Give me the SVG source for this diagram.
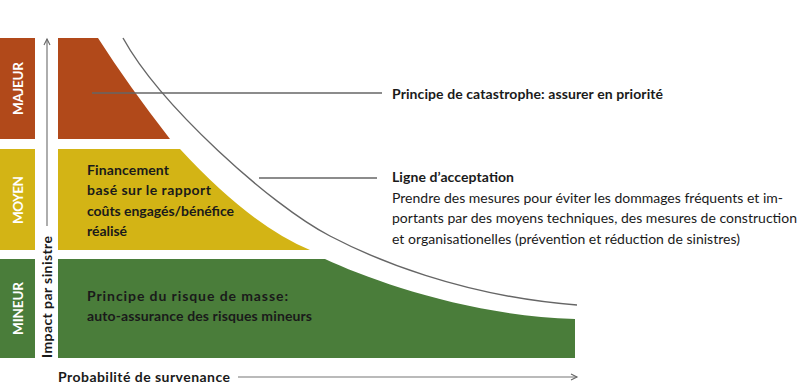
<svg xmlns="http://www.w3.org/2000/svg" width="800" height="386" viewBox="0 0 800 386">
<defs>
<marker id="arr" markerWidth="10" markerHeight="10" refX="7" refY="4" orient="auto" markerUnits="userSpaceOnUse">
<path d="M1,1 L7,4 L1,7" fill="none" stroke="#666" stroke-width="1.1"/>
</marker>
<style>
.t{font-family:Lato,"Liberation Sans",sans-serif;fill:#1a1a1a;font-size:14px}
.b{font-weight:bold}
.lab{font-family:Lato,"Liberation Sans",sans-serif;font-weight:bold;fill:#fff;font-size:13.5px;text-anchor:middle}
.red{fill:#B1491A}
.yel{fill:#D3B415}
.grn{fill:#4A7D3A}
.ln{stroke:#666;stroke-width:1.4;fill:none}
.ax{stroke:#777;stroke-width:1.2;fill:none}
</style>
</defs>

<g id="level-majeur">
<rect class="red" x="0" y="38" width="35" height="101"/>
<text class="lab" transform="translate(23,88.5) rotate(-90)" textLength="53">MAJEUR</text>
</g>
<g id="level-moyen">
<rect class="yel" x="0" y="149" width="35" height="101"/>
<text class="lab" transform="translate(23,200) rotate(-90)" textLength="48">MOYEN</text>
</g>
<g id="level-mineur">
<rect class="grn" x="0" y="259" width="35" height="99"/>
<text class="lab" transform="translate(23,308.5) rotate(-90)" textLength="53">MINEUR</text>
</g>

<g id="zone-catastrophe">
<path class="red" d="M58,38 L98,38 Q128,85 170,139 L58,139 Z"/>
</g>
<g id="zone-financement">
<path class="yel" d="M58,149 L180,149 Q250,225 310,250 L58,250 Z"/>
<text class="t b" x="87" y="175" textLength="82">Financement</text>
<text class="t b" x="87" y="195" textLength="124">basé sur le rapport</text>
<text class="t b" x="87" y="216" textLength="147">coûts engagés/bénéfice</text>
<text class="t b" x="87" y="236" textLength="40">réalisé</text>
</g>
<g id="zone-masse">
<path class="grn" d="M58,259 L325,259 C370,280 470,316 575,319 L575,358 L58,358 Z"/>
<text class="t b" x="87" y="301" textLength="201">Principe du risque de masse:</text>
<text class="t b" x="87" y="321" textLength="225">auto-assurance des risques mineurs</text>
</g>

<g id="label-catastrophe">
<text class="t b" x="392" y="99" textLength="271">Principe de catastrophe: assurer en priorité</text>
</g>
<g id="label-acceptation">
<text class="t b" x="392" y="182" textLength="122">Ligne d’acceptation</text>
<text class="t" x="392" y="203" textLength="391">Prendre des mesures pour éviter les dommages fréquents et im-</text>
<text class="t" x="392" y="223" textLength="405">portants par des moyens techniques, des mesures de construction</text>
<text class="t" x="392" y="244" textLength="348">et organisationelles (prévention et réduction de sinistres)</text>
</g>

<g id="axes">
<line class="ax" x1="47" y1="226" x2="47" y2="39" marker-end="url(#arr)"/>
<text class="t b" transform="translate(52,358) rotate(-90)" textLength="122">Impact par sinistre</text>
<line class="ax" x1="238" y1="377" x2="577" y2="377" marker-end="url(#arr)"/>
<text class="t b" x="58" y="382" textLength="172">Probabilité de survenance</text>
</g>

<g id="connectors">
<path class="ln" stroke-width="1.2" d="M123,38 C160,105 270,205 330,236 C372,258 460,296 577,305"/>
<line class="ln" x1="92" y1="93" x2="382" y2="93"/>
<line class="ln" x1="259" y1="178" x2="377" y2="178"/>
</g>
</svg>
